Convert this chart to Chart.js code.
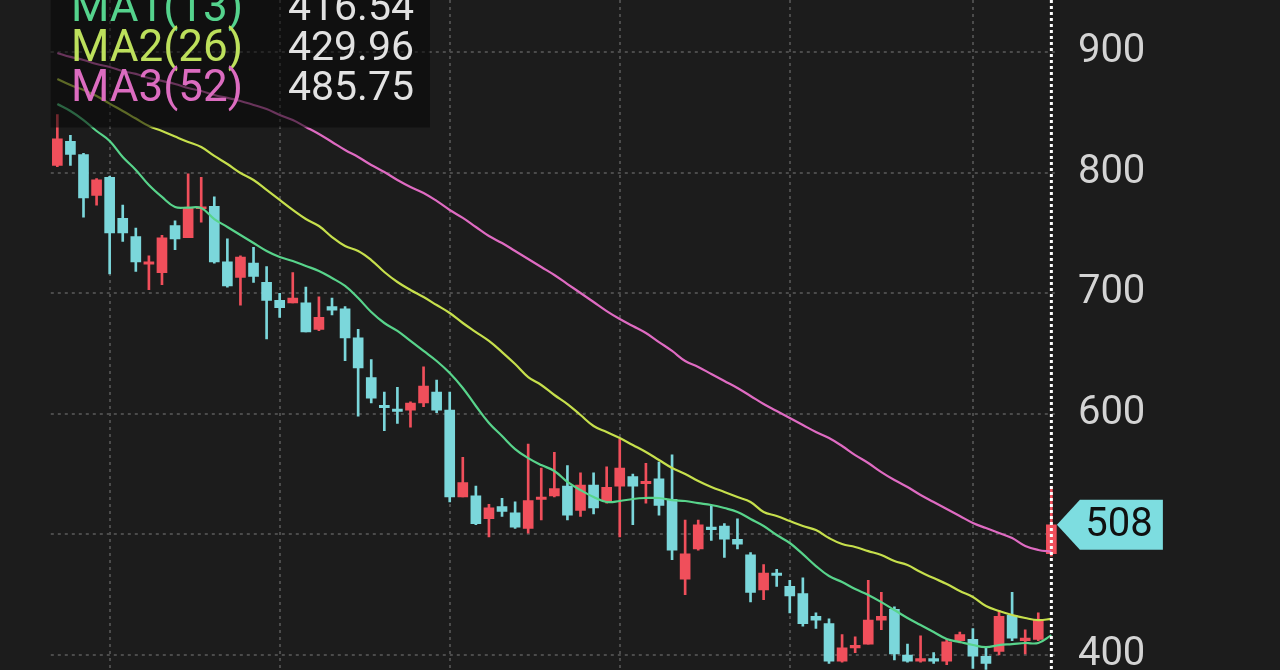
<!DOCTYPE html>
<html><head><meta charset="utf-8">
<script src="https://cdn.jsdelivr.net/npm/chart.js@4.4.1/dist/chart.umd.min.js"></script>
<style>html,body{margin:0;padding:0;background:#1c1c1c;overflow:hidden}#wrap{width:1280px;height:670px;position:relative}</style>
</head><body><div id="wrap"><canvas id="c"></canvas></div>
<script>
const categories = ['W1','W2','W3','W4','W5','W6','W7','W8','W9','W10','W11','W12','W13','W14','W15','W16','W17','W18','W19','W20','W21','W22','W23','W24','W25','W26','W27','W28','W29','W30','W31','W32','W33','W34','W35','W36','W37','W38','W39','W40','W41','W42','W43','W44','W45','W46','W47','W48','W49','W50','W51','W52','W53','W54','W55','W56','W57','W58','W59','W60','W61','W62','W63','W64','W65','W66','W67','W68','W69','W70','W71','W72','W73','W74','W75','W76','W77'];
const opens  = [806,826,815,781,796,762,747,724,717,756,746,770,772,726,713,725,709,694,692,692,670,689,687,663,630,607,604,603,609,618,603,531,532,513,523,518,505,529,532,540,520,541,528,540,548,542,546,529,463,488,506,507,496,483,454,468,457,451,432,426,395,406,409,429,438,400,395,397,395,412,413,399,403,433,412,413,484];
const highs  = [848,831,816,795,797,773,754,731,748,760,799,796,780,745,731,738,722,700,717,705,697,696,689,670,645,618,622,610,639,628,618,564,540,525,530,527,575,555,568,557,551,551,556,579,550,559,560,566,512,512,524,509,513,485,475,471,462,464,435,430,417,415,462,452,440,409,416,402,413,419,422,406,437,452,421,435,539];
const lows   = [805,806,763,773,716,743,718,703,707,736,746,759,725,705,690,709,662,680,692,668,669,682,644,598,609,586,592,589,606,601,527,531,508,498,515,505,501,512,531,512,515,517,526,498,508,526,516,479,450,487,495,481,488,444,446,457,435,424,422,393,394,402,409,421,396,394,394,393,392,410,389,388,400,412,401,412,482];
const closes = [828,815,779,794,750,750,726,726,746,745,771,771,726,706,730,714,694,688,696,668,680,686,663,638,613,605,602,609,623,603,531,543,509,522,519,506,528,531,538,516,541,522,539,555,540,544,524,487,484,508,504,496,492,452,468,466,449,426,429,395,406,408,429,432,401,395,397,395,411,417,399,393,432,414,414,429,508];
const ma1 = [856.9,851.1,843.6,834.5,826.2,812.9,802.2,789.7,779.8,771.5,771.0,770.6,761.5,754.9,748.3,741.6,735.0,730.0,726.7,722.6,718.4,712.6,706.0,696.0,684.4,675.3,668.7,660.4,652.1,643.8,633.8,621.4,606.5,592.4,581.6,570.8,563.3,557.5,552.6,543.5,536.8,531.0,526.9,527.7,529.4,530.2,530.2,528.5,527.7,526.0,524.4,521.9,518.6,512.8,507.0,499.5,492.9,483.7,473.8,465.5,460.5,454.7,449.8,443.9,437.3,430.7,424.9,419.1,413.3,410.8,408.3,406.6,408.3,409.1,410.0,410.0,416.54];
const ma2 = [877.6,872.6,868.5,863.5,857.2,851.1,844.8,838.6,834.5,829.9,825.4,821.2,813.8,807.1,799.7,793.9,785.6,777.3,769.0,761.5,755.7,746.6,739.1,735.0,727.5,717.6,709.3,702.7,696.8,690.2,683.6,675.3,667.8,660.4,651.2,641.3,630.5,623.9,615.6,608.1,599.0,589.9,584.9,579.9,574.1,568.3,561.7,555.1,550.1,544.3,539.3,535.2,531.0,526.9,518.6,515.3,511.1,507.0,503.6,497.0,492.0,489.6,486.2,482.9,477.9,474.6,468.8,463.8,458.9,453.1,448.1,440.6,436.5,433.2,430.7,429.0,429.96];
const ma3 = [899.2,895.9,893.4,890.0,887.6,884.2,881.8,878.4,876.0,873.5,870.1,867.7,864.3,861.9,859.4,856.1,852.7,847.8,843.6,837.8,832.0,825.4,818.7,812.9,806.3,800.5,793.9,788.1,783.1,776.5,769.0,762.4,754.9,747.4,741.6,735.0,728.4,721.7,715.1,707.6,700.2,692.7,685.2,678.6,672.8,667.0,659.5,652.1,643.8,638.8,633.0,627.2,621.4,614.8,608.1,602.3,596.5,590.7,584.9,579.9,573.3,565.8,559.2,551.7,545.1,539.3,532.7,526.9,521.1,515.3,509.5,505.3,501.2,497.0,490.4,487.1,485.75];
const maLabels = ['MA1(13)','MA2(26)','MA3(52)'];
const yTicks = [400,500,600,700,800,900];
const hiddenTicks = [500];
const gridWeeks = [4,17,30,43,56,70];

const UP = '#f04f5b', DOWN = '#7bd7db';
const MA_COLORS = ['#58d48b','#c6df4c','#df6bc2'];
const MA_TEXT = ['#55d38d','#bde05c','#dc6cc0'];
const GRID = '#4b4b4b';
const FONT = 'Roboto, "Noto Sans", sans-serif';

const candleColors = closes.map((c,i)=> c >= opens[i] ? UP : DOWN);
const bodies = opens.map((o,i)=>[Math.min(o,closes[i]), Math.max(o,closes[i])]);
const wicks = lows.map((l,i)=>[l, highs[i]]);
const maSeries = [ma1, ma2, ma3];

const overlay = {
  id:'overlay',
  afterDatasetsDraw(chart){
    const {ctx, chartArea:a, scales:{x,y}} = chart;
    ctx.save();
    ctx.fillStyle = 'rgba(8,8,8,0.55)';
    ctx.fillRect(a.left, 0, 430 - a.left, 127.5);
    ctx.textBaseline = 'middle';
    const rows = [10, 50, 90];
    maLabels.forEach((lab,i)=>{
      ctx.font = '44px ' + FONT;
      ctx.fillStyle = MA_TEXT[i];
      ctx.textAlign = 'left';
      ctx.fillText(lab, 71, rows[i]);
      ctx.font = '41px ' + FONT;
      ctx.fillStyle = '#e2e2e2';
      ctx.textAlign = 'right';
      const s = maSeries[i];
      ctx.fillText(s[s.length-1].toFixed(2), 414, rows[i]);
    });
    ctx.restore();
    const last = closes.length - 1;
    const cx = x.getPixelForValue(last);
    ctx.save();
    ctx.strokeStyle = '#ffffff';
    ctx.lineWidth = 3;
    ctx.setLineDash([3,3]);
    ctx.beginPath();
    ctx.moveTo(cx, a.top); ctx.lineTo(cx, a.bottom);
    ctx.stroke();
    ctx.restore();
    const py = y.getPixelForValue(closes[last]);
    ctx.save();
    ctx.fillStyle = '#7ddde0';
    ctx.beginPath();
    ctx.moveTo(a.right - 1, py);
    ctx.lineTo(a.right + 22, py - 25);
    ctx.lineTo(a.right + 105, py - 25);
    ctx.lineTo(a.right + 105, py + 25);
    ctx.lineTo(a.right + 22, py + 25);
    ctx.closePath();
    ctx.fill();
    ctx.fillStyle = '#101010';
    ctx.font = '40px ' + FONT;
    ctx.textAlign = 'center';
    ctx.textBaseline = 'middle';
    ctx.fillText(String(closes[last]), a.right + 61, py + 1);
    ctx.restore();
  }
};

new Chart(document.getElementById('c'), {
  data: {
    labels: categories,
    datasets: [
      ...maSeries.map((s,i)=>({type:'line', data:s, borderColor:MA_COLORS[i], borderWidth:2.2, pointRadius:0, tension:0.4, order:0})),
      {type:'bar', data:bodies, backgroundColor:candleColors, barThickness:10, grouped:false, borderWidth:0, borderSkipped:false, minBarLength:2, order:1},
      {type:'bar', data:wicks, backgroundColor:candleColors, barThickness:2, grouped:false, borderWidth:0, borderSkipped:false, order:2}
    ]
  },
  options: {
    responsive:true, maintainAspectRatio:false, animation:false,
    events:[],
    layout:{padding:{left:50.8, top:0, right:0, bottom:0}},
    plugins:{legend:{display:false}, tooltip:{enabled:false}},
    scales:{
      x:{type:'category', offset:true,
        grid:{offset:false, drawTicks:false, lineWidth:2, color:(c)=> gridWeeks.includes(c.index) ? GRID : 'rgba(0,0,0,0)'},
        border:{display:false, dash:[3,4]},
        ticks:{display:false},
        afterFit:(s)=>{ s.height = 0; s.paddingLeft = 0; s.paddingRight = 0; }
      },
      y:{type:'linear', position:'right', min:387.6, max:943.1,
        afterBuildTicks:(s)=>{ s.ticks = yTicks.map(v=>({value:v})); },
        grid:{drawTicks:false, lineWidth:2, color:GRID},
        border:{display:false, dash:[3,4]},
        ticks:{padding:20, color:'#d4d4d4', font:{family:FONT, size:40},
          callback:(v)=> hiddenTicks.includes(v) ? '' : String(v)},
        afterFit:(s)=>{ s.width = 222.1; s.paddingTop = 0; s.paddingBottom = 0; }
      }
    }
  },
  plugins:[overlay]
});
</script></body></html>
